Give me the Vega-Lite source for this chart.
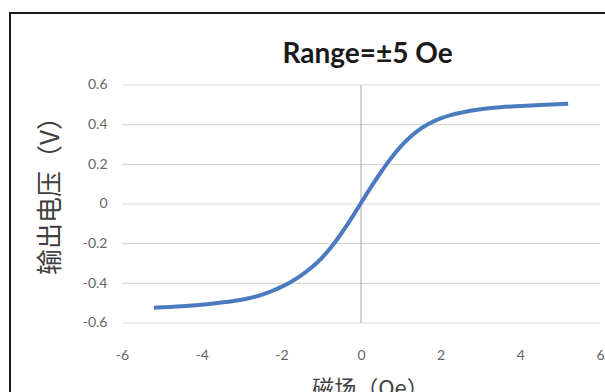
{
  "$schema": "https://vega.github.io/schema/vega-lite/v6.json",
  "width": 595,
  "height": 379,
  "autosize": {"type": "none"},
  "padding": {"left": 10, "top": 13, "right": 0, "bottom": 0},
  "background": "white",
  "config": {
    "view": {"stroke": "#1a1a1a", "strokeWidth": 2, "strokeDash": [595, 974, 379]},
    "font": "Lato"
  },
  "title": {
    "text": "Range=±5 Oe",
    "font": "Lato",
    "fontSize": 28,
    "fontWeight": "bold",
    "color": "#1a1a1a",
    "anchor": "middle",
    "baseline": "alphabetic",
    "offset": -78,
    "dx": 60
  },
  "layer": [
    {
      "data": {"values": [{"v": -0.6}, {"v": -0.4}, {"v": -0.2}, {"v": 0}, {"v": 0.2}, {"v": 0.4}, {"v": 0.6}]},
      "mark": {"type": "rule", "stroke": "#d9d9d9", "strokeWidth": 1.2},
      "encoding": {
        "y": {"field": "v", "type": "quantitative"},
        "x": {"datum": -6, "type": "quantitative"},
        "x2": {"datum": 6}
      }
    },
    {
      "data": {"values": [{"h": 0}]},
      "mark": {"type": "rule", "stroke": "#a6a6a6", "strokeWidth": 1},
      "encoding": {
        "x": {"field": "h", "type": "quantitative"},
        "y": {"datum": -0.6, "type": "quantitative"},
        "y2": {"datum": 0.6}
      }
    },
    {
      "data": {"values": [
        {"h": -5.2, "v": -0.523},
        {"h": -4.5, "v": -0.516},
        {"h": -4.0, "v": -0.508},
        {"h": -3.5, "v": -0.497},
        {"h": -3.0, "v": -0.483},
        {"h": -2.75, "v": -0.472},
        {"h": -2.5, "v": -0.458},
        {"h": -2.25, "v": -0.44},
        {"h": -2.0, "v": -0.418},
        {"h": -1.75, "v": -0.392},
        {"h": -1.5, "v": -0.36},
        {"h": -1.25, "v": -0.322},
        {"h": -1.0, "v": -0.275},
        {"h": -0.75, "v": -0.218},
        {"h": -0.5, "v": -0.15},
        {"h": -0.25, "v": -0.075},
        {"h": 0, "v": 0.005},
        {"h": 0.25, "v": 0.085},
        {"h": 0.5, "v": 0.16},
        {"h": 0.75, "v": 0.23},
        {"h": 1.0, "v": 0.29},
        {"h": 1.25, "v": 0.34},
        {"h": 1.5, "v": 0.38},
        {"h": 1.75, "v": 0.41},
        {"h": 2.0, "v": 0.432},
        {"h": 2.25, "v": 0.448},
        {"h": 2.5, "v": 0.46},
        {"h": 2.75, "v": 0.47},
        {"h": 3.0, "v": 0.478},
        {"h": 3.5, "v": 0.488},
        {"h": 4.0, "v": 0.494},
        {"h": 4.5, "v": 0.499},
        {"h": 5.2, "v": 0.505}
      ]},
      "mark": {"type": "line", "color": "#4a7bbf", "strokeWidth": 4, "interpolate": "monotone"},
      "encoding": {
        "x": {
          "field": "h",
          "type": "quantitative",
          "scale": {"domain": [-8.812, 6.1255], "nice": false, "zero": false},
          "axis": {
            "values": [-6, -4, -2, 0, 2, 4, 6],
            "offset": -69,
            "domain": false,
            "ticks": false,
            "grid": false,
            "labelPadding": 25,
            "labelExpr": "toString(datum.value)",
            "labelFont": "Lato",
            "labelFontSize": 14,
            "labelColor": "#666666",
            "title": "磁场（Oe）",
            "titleFont": "Noto Sans CJK SC",
            "titleFontSize": 22,
            "titleFontWeight": "normal",
            "titleColor": "#404040",
            "titleX": 360,
            "titleY": 65,
            "titleBaseline": "middle"
          }
        },
        "y": {
          "field": "v",
          "type": "quantitative",
          "scale": {"domain": [-0.948, 0.963], "nice": false, "zero": false},
          "axis": {
            "values": [-0.6, -0.4, -0.2, 0, 0.2, 0.4, 0.6],
            "offset": -112,
            "domain": false,
            "ticks": false,
            "grid": false,
            "labelPadding": 15,
            "labelExpr": "toString(datum.value)",
            "labelFont": "Lato",
            "labelFontSize": 14,
            "labelColor": "#666666",
            "title": "输出电压（V）",
            "titleFont": "Noto Sans CJK SC",
            "titleFontSize": 26,
            "titleFontWeight": "normal",
            "titleColor": "#404040",
            "titleAngle": -90,
            "titleX": -72,
            "titleY": 176,
            "titleBaseline": "middle"
          }
        }
      }
    }
  ]
}
